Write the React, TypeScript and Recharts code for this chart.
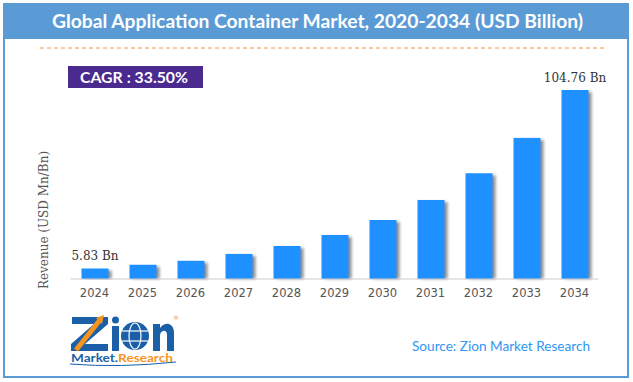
import React from "react";
import { BarChart, Bar, XAxis, YAxis, LabelList } from "recharts";

const years = ["2024", "2025", "2026", "2027", "2028", "2029", "2030", "2031", "2032", "2033", "2034"];
const revenue = [5.83, 7.9, 10.1, 13.9, 18.3, 24.4, 32.7, 43.8, 58.6, 78.2, 104.76];
const labelledYears = ["2024", "2034"];
const titleText = "Global Application Container Market, 2020-2034 (USD Billion)";
const cagrText = "CAGR : 33.50%";
const yLabel = "Revenue (USD Mn/Bn)";
const sourceText = "Source: Zion Market Research";

const data = years.map((y, i) => ({ year: y, value: revenue[i] }));

const BLUE_FRAME = "#5B9BD5";
const BAR = "#1E90FF";

const BarShape = (props: any) => {
  const { x, y, width, height } = props;
  if (height <= 0) return null;
  return (
    <g>
      <rect x={x + 3} y={y + 2} width={width} height={height - 2} fill="#000" opacity={0.45} filter="url(#barShadow)" />
      <rect x={x} y={y} width={width} height={height} fill={BAR} />
    </g>
  );
};

const ValueLabel = (p: any) => {
  const { x, y, width, index, value } = p;
  if (!labelledYears.includes(years[index])) return null;
  return (
    <text x={x + width / 2} y={y - 8} textAnchor="middle" fontFamily="DejaVu Serif" fontSize={12} fill="#333">
      {Number(value).toFixed(2)} Bn
    </text>
  );
};

export default function App() {
  return (
    <div style={{ position: "absolute", left: 0, top: 0, width: 633, height: 382, background: "#fff", overflow: "hidden" }}>
      <svg width={633} height={382} style={{ position: "absolute", left: 0, top: 0 }}>
        <defs>
          <filter id="barShadow" x="-50%" y="-10%" width="200%" height="120%">
            <feGaussianBlur stdDeviation="1.6" />
          </filter>
        </defs>
        <rect x={4} y={4} width={624} height={373} fill="#fff" stroke={BLUE_FRAME} strokeWidth={2} />
        <rect x={4} y={4} width={625} height={35} fill={BLUE_FRAME} />
        <text x={317.5} y={28} textAnchor="middle" fill="#fff" fontFamily="Lato" fontWeight={700} fontSize={19} textLength={531} lengthAdjust="spacingAndGlyphs">
          {titleText}
        </text>
        <line x1={40} y1={48} x2={605} y2={48} stroke="#F79646" strokeWidth={1} strokeDasharray="4 3" />
        <rect x={68} y={66} width={135} height={22} fill="#4A2A8F" />
        <text x={134} y={82.5} textAnchor="middle" fill="#fff" fontFamily="Lato" fontWeight={700} fontSize={15} textLength={108} lengthAdjust="spacingAndGlyphs">
          {cagrText}
        </text>
        <text transform="translate(48,220) rotate(-90)" textAnchor="middle" fill="#555" fontFamily="DejaVu Serif" fontSize={12}>
          {yLabel}
        </text>
        {/* logo */}
        <g>
          <path d="M72 317 L108 317 L108 324 L85 344 L108 344 L108 351 L71 351 L71 344 L94 324 L72 324 Z" fill="#1B5FA8" />
          <path d="M76 350 L100 320" stroke="#F7941D" strokeWidth={5} />
          <path d="M96 318 L104 315 L102 324 Z" fill="#F7941D" />
          <rect x={112} y={326} width={7} height={25} fill="#1B5FA8" />
          <circle cx={115.5} cy={320} r={3.5} fill="#1B5FA8" />
          <circle cx={135} cy={336} r={14} fill="#1B5FA8" />
          <ellipse cx={135} cy={336} rx={6} ry={13} fill="none" stroke="#fff" strokeWidth={1.2} />
          <line x1={122} y1={331} x2={148} y2={331} stroke="#fff" strokeWidth={1.2} />
          <line x1={122} y1={341} x2={148} y2={341} stroke="#fff" strokeWidth={1.2} />
          <path d="M153 351 L153 324 L160 324 L160 328 Q164 323 169 324 Q174 326 174 333 L174 351 L167 351 L167 334 Q166 330 163 331 Q160 332 160 336 L160 351 Z" fill="#1B5FA8" />
          <text x={173} y={320} fill="#F7941D" fontFamily="DejaVu Sans" fontSize={6}>®</text>
          <text x={71} y={362} fontFamily="Lato" fontWeight={700} fontSize={12} textLength={102} lengthAdjust="spacingAndGlyphs">
            <tspan fill="#1B5FA8">Market</tspan>
            <tspan fill="#1B5FA8">.</tspan>
            <tspan fill="#F7941D">Research</tspan>
          </text>
          <path d="M70 364 Q120 368 176 362" stroke="#1B5FA8" strokeWidth={1} fill="none" />
        </g>
        <text x={412} y={351} fill="#2E96F5" fontFamily="Lato" fontSize={14} textLength={178} lengthAdjust="spacingAndGlyphs">
          {sourceText}
        </text>
      </svg>
      <div style={{ position: "absolute", left: 0, top: 0 }}>
        <BarChart width={633} height={382} data={data} margin={{ top: 62.5, right: 34.5, left: 70.5, bottom: 73 }} barSize={27}>
          <XAxis
            dataKey="year"
            height={30}
            axisLine={{ stroke: "#ccc" }}
            tickLine={false}
            tickMargin={4}
            tick={{ fill: "#555", fontSize: 11.5, fontFamily: "DejaVu Sans" }}
            interval={0}
          />
          <YAxis hide domain={[0, 120]} />
          <Bar dataKey="value" isAnimationActive={false} shape={<BarShape />}>
            <LabelList dataKey="value" content={<ValueLabel />} />
          </Bar>
        </BarChart>
      </div>
    </div>
  );
}
